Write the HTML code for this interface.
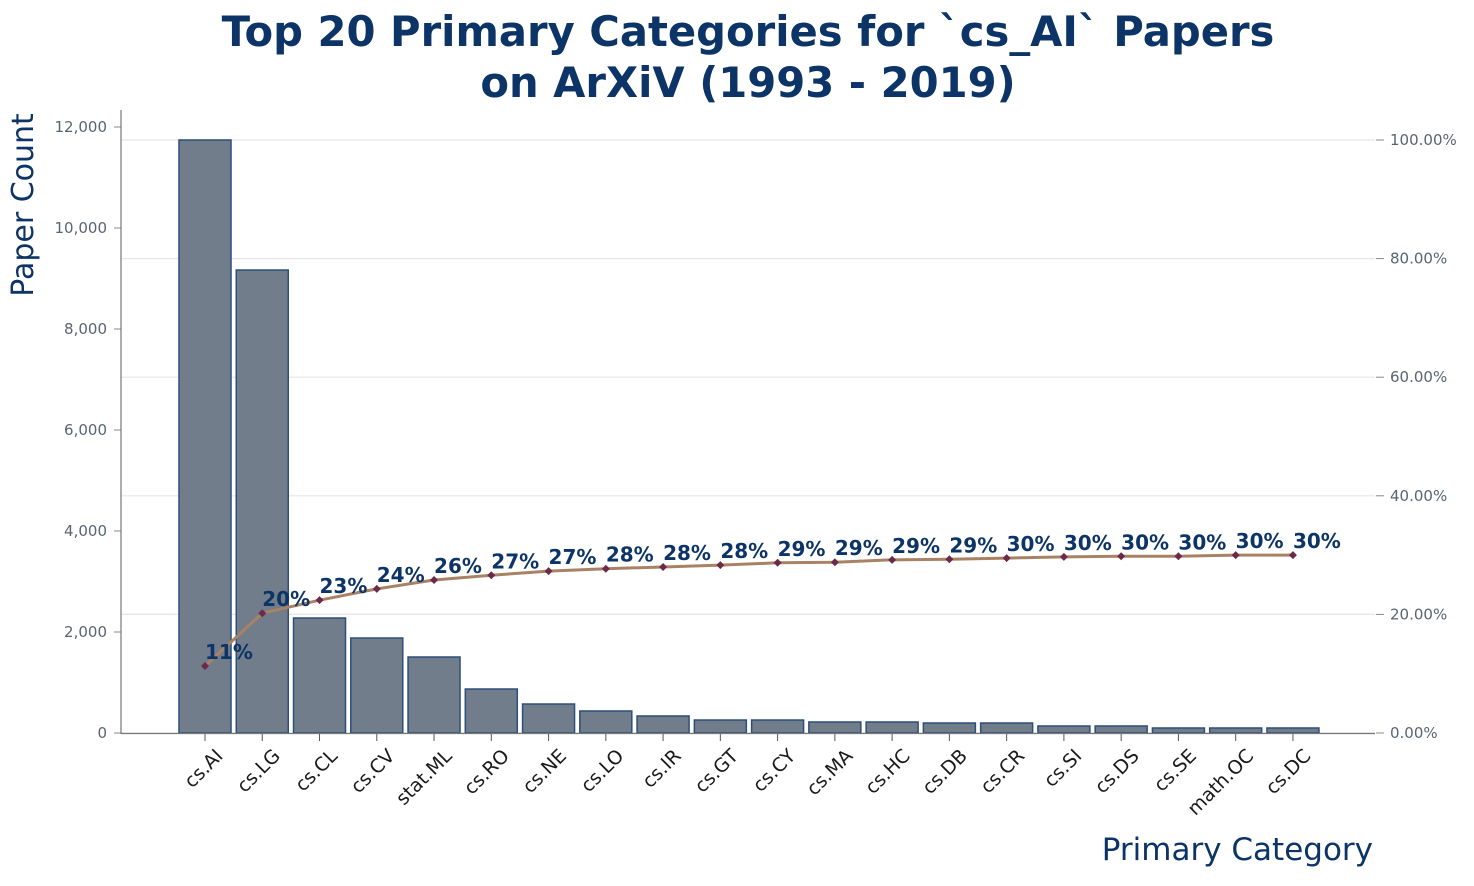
<!DOCTYPE html>
<html><head><meta charset="utf-8"><style>
body{margin:0;background:#fff;}
svg{display:block;font-family:"DejaVu Sans","Liberation Sans",sans-serif;}
</style></head><body>
<svg id="chart" width="1474" height="886">
<text x="748" y="46" text-anchor="middle" font-size="41.7" font-weight="bold" fill="#0d3466">Top 20 Primary Categories for `cs_AI` Papers</text>
<text x="748" y="97" text-anchor="middle" font-size="41.7" font-weight="bold" fill="#0d3466">on ArXiV (1993 - 2019)</text>
<text transform="translate(33,205) rotate(-90)" text-anchor="middle" font-size="30" fill="#0d3466">Paper Count</text>
<text x="1373" y="860" text-anchor="end" font-size="31" fill="#0d3466">Primary Category</text>
<g id="grid"></g><g id="bars"></g><g id="axes"></g><g id="line"></g>
</svg>
<script>
const categories=["cs.AI","cs.LG","cs.CL","cs.CV","stat.ML","cs.RO","cs.NE","cs.LO","cs.IR","cs.GT","cs.CY","cs.MA","cs.HC","cs.DB","cs.CR","cs.SI","cs.DS","cs.SE","math.OC","cs.DC"];
const counts=[11743,9168,2277,1881,1505,871,574,436,337,257,257,218,218,198,198,139,139,99,99,99];
const cumPct=[11.3,20.2,22.4,24.3,25.8,26.6,27.3,27.7,28.0,28.3,28.7,28.8,29.2,29.3,29.5,29.7,29.8,29.8,30.0,30.0];
const pctLabels=["11%","20%","23%","24%","26%","27%","27%","28%","28%","28%","29%","29%","29%","29%","30%","30%","30%","30%","30%","30%"];
const leftTicks=[0,2000,4000,6000,8000,10000,12000];
const rightTicks=[0,20,40,60,80,100];
const NS="http://www.w3.org/2000/svg";
const y0=733;
const yL=v=>y0-v*(101/2000);
const yR=p=>y0-p*5.93;
const xC=i=>205+i*57.26;
function mk(tag,attrs,parent,text){const e=document.createElementNS(NS,tag);for(const k in attrs)e.setAttribute(k,attrs[k]);if(text!==undefined)e.textContent=text;document.getElementById(parent).appendChild(e);return e;}
rightTicks.forEach(p=>{
 const g=mk('line',{x1:121,x2:1375,y1:yR(p),y2:yR(p),stroke:'#e6e6e6','stroke-width':1.2},'grid');
 
 
 mk('line',{x1:1376,x2:1384,y1:yR(p),y2:yR(p),stroke:'#888'},'axes');
 const l=mk('text',{x:1390,y:yR(p)+5,'font-size':15,fill:'#5a6470'},'axes',p.toFixed(2)+'%');
 
 
});
leftTicks.forEach(v=>{
 mk('line',{x1:114,x2:121,y1:yL(v),y2:yL(v),stroke:'#888'},'axes');
 const l=mk('text',{x:107,y:yL(v)+5,'text-anchor':'end','font-size':15,fill:'#5a6470'},'axes',v.toLocaleString('en-US'));
 
 
});
mk('line',{x1:121,x2:121,y1:110,y2:734,stroke:'#777','stroke-width':1.2},'axes');
mk('line',{x1:121,x2:1375,y1:733.5,y2:733.5,stroke:'#777','stroke-width':1.2},'axes');
categories.forEach((c,i)=>{
 const b=mk('rect',{x:xC(i)-26,y:yL(counts[i]),width:52,height:y0-yL(counts[i]),fill:'#717d8a',stroke:'#2d4f7a','stroke-width':1.5},'bars');
 
 
 mk('line',{x1:xC(i),x2:xC(i),y1:734,y2:741,stroke:'#555'},'axes');
 const ax=xC(i)+19, ay=757;
 const t=mk('text',{x:ax,y:ay,'text-anchor':'end','font-size':19,fill:'#1a1a1a',transform:`rotate(-45 ${ax} ${ay})`},'axes',c);
 
 
});
const pts=cumPct.map((p,i)=>xC(i)+','+yR(p)).join(' ');
const pl=mk('polyline',{points:pts,fill:'none',stroke:'#a98266','stroke-width':3},'line');


cumPct.forEach((p,i)=>{
 const x=xC(i),y=yR(p);
 const m=mk('path',{d:`M${x} ${y-4}L${x+4} ${y}L${x} ${y+4}L${x-4} ${y}Z`,fill:'#6b2a4a'},'line');
 
 
 const l=mk('text',{x:x,y:y-7,'font-size':20,'font-weight':'bold',fill:'#0d3466'},'line',pctLabels[i]);
 
 
});
</script>
</body></html>
